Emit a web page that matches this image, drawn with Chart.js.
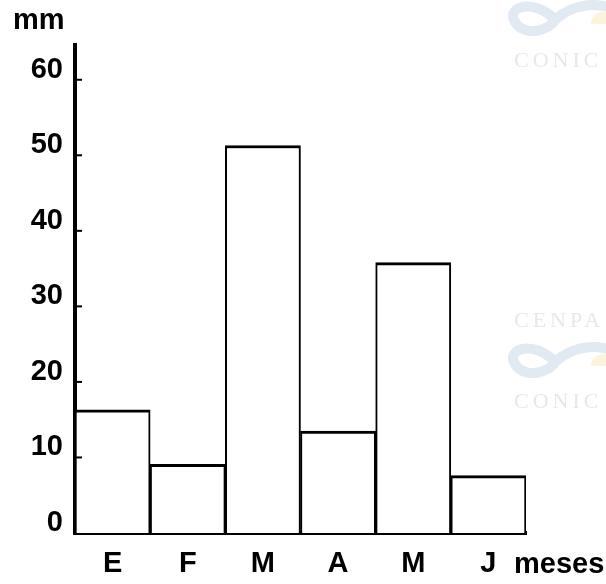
<!DOCTYPE html>
<html>
<head>
<meta charset="utf-8">
<script src="https://cdn.jsdelivr.net/npm/chart.js@4.4.0/dist/chart.umd.min.js"></script>
<style>
  html, body { margin: 0; padding: 0; background: #fff; }
  #wrap { width: 606px; height: 584px; position: relative; }
</style>
</head>
<body>
<div id="wrap"><canvas id="chart" width="606" height="584"></canvas></div>
<script>
// rainfall per month (mm)
const months = ['E', 'F', 'M', 'A', 'M', 'J'];
const rainfall = [16.3, 9.1, 51.3, 13.5, 35.8, 7.6];
const yTicks = [0, 10, 20, 30, 40, 50, 60];
const yUnit = 'mm';
const xUnit = 'meses';

const FONT = "'Liberation Sans', Arial, sans-serif";

// faint scanner watermark in the right margin
const watermark = {
  id: 'watermark',
  beforeDraw(chart) {
    const ctx = chart.ctx;
    ctx.save();
    ctx.lineCap = 'round';
    const swoosh = (cx, cy) => {
      ctx.strokeStyle = '#e1e9f2';
      ctx.lineWidth = 10;
      ctx.beginPath();
      ctx.moveTo(cx, cy);
      ctx.bezierCurveTo(cx - 20, cy - 22, cx - 50, cy - 14, cx - 40, cy + 2);
      ctx.bezierCurveTo(cx - 30, cy + 18, cx - 5, cy + 10, cx, cy);
      ctx.bezierCurveTo(cx + 15, cy - 14, cx + 40, cy - 20, cx + 60, cy - 10);
      ctx.stroke();
      ctx.fillStyle = '#fbf3dc';
      ctx.beginPath();
      ctx.arc(cx + 48, cy + 4, 12, Math.PI, 2 * Math.PI);
      ctx.fill();
    };
    swoosh(555, 20);
    swoosh(555, 362);
    ctx.fillStyle = '#e8e8e8';
    ctx.font = "22px 'Liberation Serif', serif";
    ctx.textBaseline = 'alphabetic';
    ctx.textAlign = 'left';
    if ('letterSpacing' in ctx) ctx.letterSpacing = '4px';
    ctx.fillText('CONIC', 514, 67);
    ctx.fillText('CENPA', 514, 327);
    ctx.fillText('CONIC', 514, 408);
    ctx.restore();
  }
};

// small inward tick marks on the y axis + unit labels
const axisExtras = {
  id: 'axisExtras',
  afterDraw(chart) {
    const ctx = chart.ctx;
    const y = chart.scales.y;
    const left = chart.chartArea.left;
    ctx.save();
    ctx.strokeStyle = '#000';
    ctx.lineWidth = 2;
    yTicks.forEach(v => {
      if (v === 0) return;
      const py = y.getPixelForValue(v);
      ctx.beginPath();
      ctx.moveTo(left, py);
      ctx.lineTo(left + 7, py);
      ctx.stroke();
    });
    ctx.fillStyle = '#000';
    ctx.font = 'bold 29px ' + FONT;
    ctx.textAlign = 'left';
    ctx.textBaseline = 'alphabetic';
    ctx.fillText(yUnit, 13, 29);
    ctx.fillText(xUnit, 514, 573);
    ctx.restore();
  }
};

new Chart(document.getElementById('chart'), {
  type: 'bar',
  data: {
    labels: months,
    datasets: [{
      data: rainfall,
      backgroundColor: '#ffffff',
      borderColor: '#000000',
      borderWidth: { top: 3, left: 2, right: 2, bottom: 0 },
      borderSkipped: false,
      categoryPercentage: 1,
      barPercentage: 1
    }]
  },
  options: {
    responsive: false,
    animation: false,
    devicePixelRatio: 1,
    layout: { padding: { top: 45, right: 80, left: 0, bottom: 0 } },
    plugins: {
      legend: { display: false },
      tooltip: { enabled: false }
    },
    scales: {
      x: {
        type: 'category',
        offset: true,
        grid: { display: false, drawTicks: false },
        border: { display: true, color: '#000', width: 4 },
        ticks: {
          color: '#000',
          font: { family: FONT, size: 29, weight: 'bold' },
          padding: 14,
          maxRotation: 0
        },
        afterFit(s) { s.height = 51; }
      },
      y: {
        min: 0,
        max: 64.6,
        grid: { display: false, drawTicks: false },
        border: { display: true, color: '#000', width: 4 },
        ticks: {
          color: '#000',
          font: { family: FONT, size: 29, weight: 'bold' },
          padding: 12,
          labelOffset: -10
        },
        afterBuildTicks(s) { s.ticks = yTicks.map(v => ({ value: v })); },
        afterFit(s) { s.width = 75; }
      }
    }
  },
  plugins: [watermark, axisExtras]
});
</script>
</body>
</html>
